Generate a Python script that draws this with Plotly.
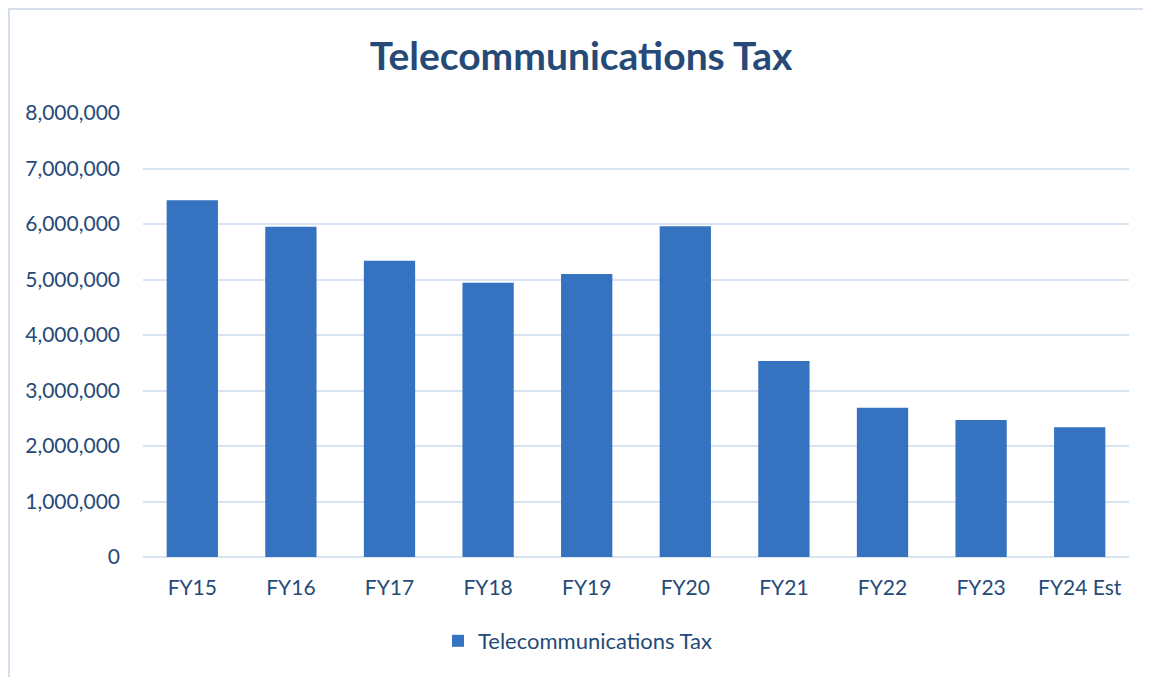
import plotly.graph_objects as go

# ── Data ────────────────────────────────────────────────────────────────────
fiscal_years = ['FY15', 'FY16', 'FY17', 'FY18', 'FY19',
                'FY20', 'FY21', 'FY22', 'FY23', 'FY24 Est']
tax_revenue = [6430000, 5950000, 5340000, 4940000, 5100000,
               5960000, 3530000, 2690000, 2470000, 2340000]
y_ticks = [0, 1000000, 2000000, 3000000, 4000000,
           5000000, 6000000, 7000000, 8000000]

TEXT_BLUE = '#264a78'
BAR_BLUE = '#3572bf'
GRID = '#d9e4f2'
FONT = 'Lato'

# page body has an 8px margin, so figure pixels = screen pixels - 8
OFF = 8
W, H = 1151 - OFF, 677 - OFF
L, R, T, B = 143 - OFF, 22, 113 - OFF, 120
pw, ph = W - L - R, H - T - B


def px_x(p):
    """screen x pixel -> paper x"""
    return (p - OFF - L) / pw


def px_y(p):
    """screen y pixel -> paper y"""
    return (H - B - (p - OFF)) / ph


fig = go.Figure()

fig.add_trace(go.Bar(
    name='Telecommunications Tax', x=fiscal_years, y=tax_revenue,
    marker=dict(color=BAR_BLUE, line=dict(width=0)),
))

# outer chart border (runs off the right and bottom of the page)
fig.add_shape(
    type='rect', xref='paper', yref='paper',
    x0=px_x(9), x1=px_x(1170), y0=px_y(700), y1=px_y(9),
    line=dict(color='#d5dfec', width=2), layer='below',
)

fig.update_layout(
    width=W, height=H,
    paper_bgcolor='white', plot_bgcolor='white',
    margin=dict(l=L, r=R, t=T, b=B),
    font=dict(family=FONT, size=21, color=TEXT_BLUE),
    title=dict(
        text='<b>Telecommunications Tax</b>',
        x=(581 - OFF) / W, xanchor='center',
        y=1 - (56 - OFF) / H, yanchor='middle',
        font=dict(family=FONT, size=39, color=TEXT_BLUE),
    ),
    bargap=0.48,
    xaxis=dict(
        type='category', showgrid=False, showline=False,
        ticks='', ticklabelstandoff=16,
        tickfont=dict(size=21, color=TEXT_BLUE),
    ),
    yaxis=dict(
        range=[0, 8000000], tickvals=y_ticks, tickformat=',d',
        gridcolor=GRID, gridwidth=2,
        zeroline=True, zerolinecolor=GRID, zerolinewidth=2,
        showline=False, ticks='', ticklabelstandoff=22,
        tickfont=dict(size=21, color=TEXT_BLUE),
    ),
    showlegend=True,
    legend=dict(
        orientation='h', x=px_x(438), xanchor='left',
        y=px_y(641), yanchor='middle',
        font=dict(size=22, color=TEXT_BLUE),
        bgcolor='rgba(0,0,0,0)',
    ),
)

fig.write_html('out.html')
